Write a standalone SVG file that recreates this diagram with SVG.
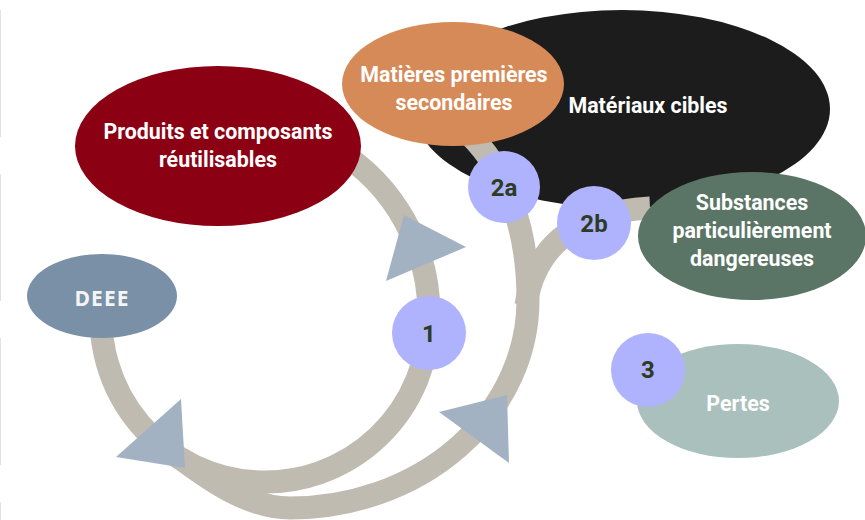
<svg xmlns="http://www.w3.org/2000/svg" width="865" height="520" viewBox="0 0 865 520">
  <style>
    .band { fill: none; stroke: #c0bbb0; stroke-width: 23; }
    .arrow { fill: #a3b2c2; }
    .step { fill: #afb3fe; }
    .lbl { font-family: Roboto, "Liberation Sans", sans-serif; font-weight: 700; font-size: 21.4px; fill: #ffffff; text-anchor: middle; }
    .num { font-family: Roboto, "Liberation Sans", sans-serif; font-weight: 700; font-size: 24px; fill: #2d3b22; text-anchor: middle; }
    .deee { font-family: "Open Sans", "Liberation Sans", sans-serif; font-weight: 700; font-size: 21px; fill: #f4f4f4; text-anchor: middle; letter-spacing: 1px; }
  </style>

  <rect width="865" height="520" fill="#ffffff"/>
  <!-- faint dashed rule on the left edge -->
  <line x1="0.5" y1="10" x2="0.5" y2="520" stroke="#e2e2da" stroke-width="1" stroke-dasharray="127 37"/>

  <!-- large background node -->
  <g id="materiaux-cibles">
    <ellipse cx="622" cy="109" rx="208" ry="99" fill="#1c1c1c"/>
    <text class="lbl" x="648" y="113">Matériaux cibles</text>
  </g>

  <!-- flow bands -->
  <g id="connectors">
    <path class="band" d="M 102 300 A 164 164 0 1 0 429 317 A 193 193 0 0 0 337 150"/>
    <path class="band" d="M 470 135 C 505 170, 528 225, 528 300 A 238 208 0 0 1 290 508 C 250 508, 212 482, 180 458"/>
    <path class="band" d="M 526 305 C 533 255, 568 212, 650 208"/>
    <polygon class="arrow" points="116,457 181,399 185,468"/>
    <polygon class="arrow" points="404,215 466,247 386,281"/>
    <polygon class="arrow" points="439,412 507,395 509,463"/>
  </g>

  <g id="produits">
    <ellipse cx="218" cy="146" rx="143" ry="80" fill="#8c0013"/>
    <text class="lbl" x="218" y="139">Produits et composants</text>
    <text class="lbl" x="218" y="167">réutilisables</text>
  </g>

  <g id="mps">
    <ellipse cx="453" cy="84" rx="111" ry="62" fill="#d68a58"/>
    <text class="lbl" x="454" y="82">Matières premières</text>
    <text class="lbl" x="454" y="110">secondaires</text>
  </g>

  <g id="substances">
    <ellipse cx="752" cy="236" rx="114" ry="64" fill="#5a7565"/>
    <text class="lbl" x="752" y="210">Substances</text>
    <text class="lbl" x="752" y="238">particulièrement</text>
    <text class="lbl" x="752" y="266">dangereuses</text>
  </g>

  <g id="deee">
    <ellipse cx="102" cy="296" rx="75" ry="42" fill="#7990a7"/>
    <text class="deee" x="102" y="306">DEEE</text>
  </g>

  <g id="pertes">
    <ellipse cx="738" cy="401" rx="101" ry="57" fill="#a9c0bc"/>
    <text class="lbl" x="738" y="411" fill="#f4f4f4">Pertes</text>
  </g>

  <g id="step-1">
    <circle class="step" cx="429" cy="333" r="37"/>
    <text class="num" x="429" y="342">1</text>
  </g>
  <g id="step-2a">
    <circle class="step" cx="504" cy="187" r="36"/>
    <text class="num" x="504" y="196">2a</text>
  </g>
  <g id="step-2b">
    <circle class="step" cx="594" cy="223" r="37"/>
    <text class="num" x="594" y="232">2b</text>
  </g>
  <g id="step-3">
    <circle class="step" cx="648" cy="370" r="37"/>
    <text class="num" x="648" y="378">3</text>
  </g>
</svg>
